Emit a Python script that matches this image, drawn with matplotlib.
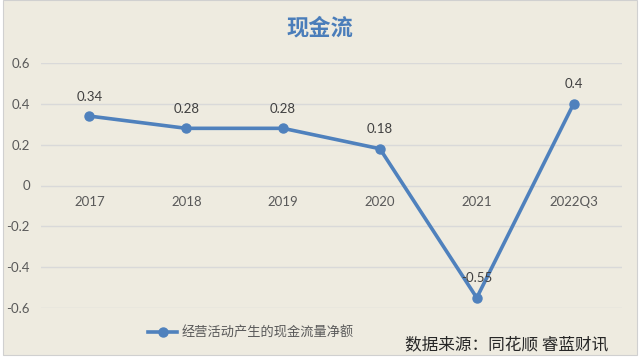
import matplotlib
matplotlib.use("Agg")
import matplotlib.pyplot as plt
from matplotlib.patches import Rectangle

plt.rcParams['font.family'] = ['Noto Sans CJK SC', 'DejaVu Sans']
num_font = ['Lato', 'DejaVu Sans']

categories = ["2017", "2018", "2019", "2020", "2021", "2022Q3"]
values = [0.34, 0.28, 0.28, 0.18, -0.55, 0.4]
labels = ["0.34", "0.28", "0.28", "0.18", "-0.55", "0.4"]
yticks = [-0.6, -0.4, -0.2, 0, 0.2, 0.4, 0.6]
ytick_labels = ["-0.6", "-0.4", "-0.2", "0", "0.2", "0.4", "0.6"]
series_name = "经营活动产生的现金流量净额"
title = "现金流"
source = "数据来源：同花顺 睿蓝财讯"

bg = "#EEEBE0"
blue = "#4F81BD"

fig = plt.figure(figsize=(6.4, 3.59), dpi=100)
fig.patch.set_facecolor("white")
fig.patches.append(Rectangle((3/640, 1-355/359), 634/640, 355/359, transform=fig.transFigure,
                             facecolor=bg, edgecolor="#D0D0D0", linewidth=0.8, zorder=-5))

ax = fig.add_axes([41/640, 1-308/359, 581/640, 245/359])
ax.set_zorder(2)
ax.set_facecolor("none")
x = list(range(len(categories)))
line, = ax.plot(x, values, color=blue, linewidth=2.6, marker="o", markersize=6.5,
                label=series_name, zorder=3)
ax.set_xlim(-0.5, len(categories) - 0.5)
ax.set_ylim(-0.6, 0.6)
ax.set_yticks(yticks)
ax.set_yticklabels(ytick_labels, fontsize=9.5, color="#595959", family=num_font)
ax.tick_params(axis="y", length=0, pad=8)
ax.set_xticks([])
ax.grid(axis="y", color="#D9D9D9", linewidth=1)
for s in ax.spines.values():
    s.set_visible(False)

for i, c in enumerate(categories):
    ax.annotate(c, (i, 0), xytext=(0, -12), textcoords="offset points",
                ha="center", va="center", fontsize=9.5, color="#595959", family=num_font)
for i, (v, l) in enumerate(zip(values, labels)):
    ax.annotate(l, (i, v), xytext=(0, 14), textcoords="offset points",
                ha="center", va="center", fontsize=9.5, color="#404040", family=num_font)

fig.text(320/640, 1-28/359, title, ha="center", va="center", fontsize=16,
         fontweight="bold", color="#4A7DBA")

fig.legend(handles=[line], loc="center left", bbox_to_anchor=(143/640, 1-333/359),
           frameon=False, fontsize=9.5, labelcolor="#595959", handlelength=2.2,
           handletextpad=0.3, borderaxespad=0)

fig.text(405/640, 1-345/359, source, ha="left", va="center", fontsize=12, color="#262626")

fig.savefig("out.png", dpi=100, facecolor=fig.get_facecolor())
